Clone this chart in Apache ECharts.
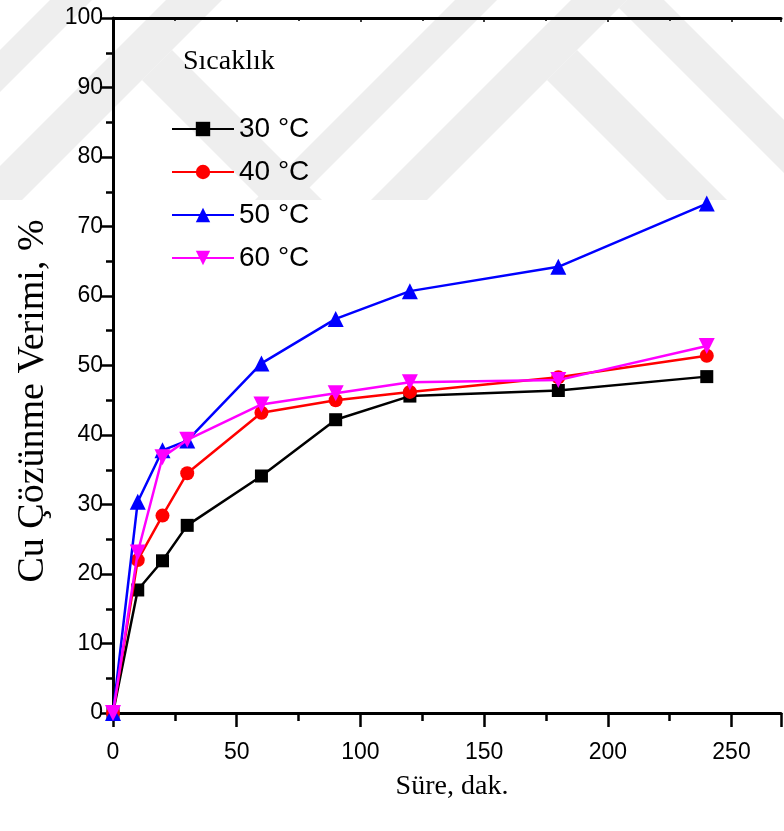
<!DOCTYPE html>
<html><head><meta charset="utf-8">
<script src="https://cdn.jsdelivr.net/npm/echarts@6/dist/echarts.min.js"></script>
<style>html,body{margin:0;padding:0;background:#fff}#c{width:784px;height:831px}</style>
</head><body><div id="c"></div>
<script>
const times = [0, 10, 20, 30, 60, 90, 120, 180, 240];
const seriesNames = ['30 °C', '40 °C', '50 °C', '60 °C'];
const t30 = [0, 17.7, 21.9, 27.0, 34.1, 42.2, 45.6, 46.4, 48.4];
const t40 = [0, 22.0, 28.4, 34.5, 43.2, 45.0, 46.2, 48.3, 51.4];
const t50 = [0, 30.4, 37.8, 39.2, 50.3, 56.7, 60.7, 64.2, 73.3];
const t60 = [0, 23.1, 36.8, 39.3, 44.4, 46.0, 47.6, 47.9, 52.8];
const xTicks = [0, 50, 100, 150, 200, 250];
const yTicks = [0, 10, 20, 30, 40, 50, 60, 70, 80, 90, 100];
const xName = 'Süre, dak.';
const yName = 'Cu Çözünme Verimi, %';
const legendTitle = 'Sıcaklık';

const colors = ['#000000', '#ff0000', '#0000ff', '#ff00ff'];
const symbols = ['rect', 'circle', 'triangle', 'path://M0,0 L10,0 L5,9 Z'];
const symSizes = [13, 14, 16, 16];
const dataSets = [t30, t40, t50, t60];

// faint background watermark (decoration)
const wm = [
  [[455,0],[497,0],[297,200],[255,200]],
  [[571,0],[627,0],[427,200],[371,200]],
  [[577,50],[727,200],[667,200],[547,80]],
  [[627,0],[664,0],[800,136],[800,189],[619,8]],
  [[166,0],[222,0],[22,200],[-34,200]],
  [[172,50],[322,200],[262,200],[142,80]],
  [[50,0],[92,0],[-108,200],[-150,200]]
];

const chart = echarts.init(document.getElementById('c'));
const axisBase = {
  axisLine: {show: true, lineStyle: {color: '#000', width: 3}},
  splitLine: {show: false}
};
const tickFont = 'Liberation Sans';
chart.setOption({
  animation: false,
  graphic: wm.map(p => ({type: 'polygon', z: -10, silent: true,
    shape: {points: p}, style: {fill: '#eeeeee'}})).concat([
    {type: 'text', left: 183, top: 48, z: 10, style: {text: legendTitle,
      font: '28px "Liberation Serif"', fill: '#000'}},
    {type: 'text', x: 452, y: 787, z: 10, style: {text: xName, align: 'center', verticalAlign: 'middle',
      font: '28px "Liberation Serif"', fill: '#000'}},
    {type: 'text', x: 33, y: 401, rotation: Math.PI / 2, z: 10, style: {text: yName, align: 'center', verticalAlign: 'middle',
      font: '38px "Liberation Serif"', fill: '#000'}}
  ]),
  legend: {
    orient: 'vertical', left: 166, top: 110, itemWidth: 62, itemHeight: 18, itemGap: 15,
    textStyle: {fontFamily: 'Liberation Sans', fontSize: 28, color: '#000'},
    data: seriesNames
  },
  grid: {left: 113, top: 18, right: 3, bottom: 118, containLabel: false},
  xAxis: [{
    type: 'value', min: 0, max: 270, interval: 50, position: 'bottom',
    ...axisBase,
    axisTick: {show: true, length: 14, lineStyle: {width: 2.5, color: '#000'}},
    minorTick: {show: true, splitNumber: 2, length: 8, lineStyle: {width: 2.5, color: '#000'}},
    axisLabel: {fontFamily: tickFont, fontSize: 23, color: '#000', margin: 28,
      formatter: v => xTicks.includes(v) ? String(v) : ''}
  }, {
    type: 'value', min: 0, max: 270, interval: 50, position: 'top',
    ...axisBase,
    axisTick: {show: true, inside: true, length: 4, lineStyle: {width: 1.5, color: '#000'}},
    minorTick: {show: true, splitNumber: 2, length: 3, lineStyle: {width: 1.5, color: '#000'}},
    axisLabel: {show: false}
  }],
  yAxis: {
    type: 'value', min: 0, max: 100, interval: 10,
    ...axisBase,
    axisTick: {show: true, length: 13, lineStyle: {width: 2.5, color: '#000'}},
    minorTick: {show: true, splitNumber: 2, length: 7, lineStyle: {width: 2.5, color: '#000'}},
    axisLabel: {fontFamily: tickFont, fontSize: 23, color: '#000', margin: 10,
      formatter: v => yTicks.includes(v) ? String(v) : ''}
  },
  series: dataSets.map((d, i) => ({
    name: seriesNames[i], type: 'line', xAxisIndex: 0,
    data: times.map((t, j) => [t, d[j]]),
    symbol: symbols[i], symbolSize: symSizes[i], showAllSymbol: true,
    itemStyle: {color: colors[i]},
    lineStyle: {color: colors[i], width: 2.5},
    z: 2 + i
  }))
});
</script></body></html>
